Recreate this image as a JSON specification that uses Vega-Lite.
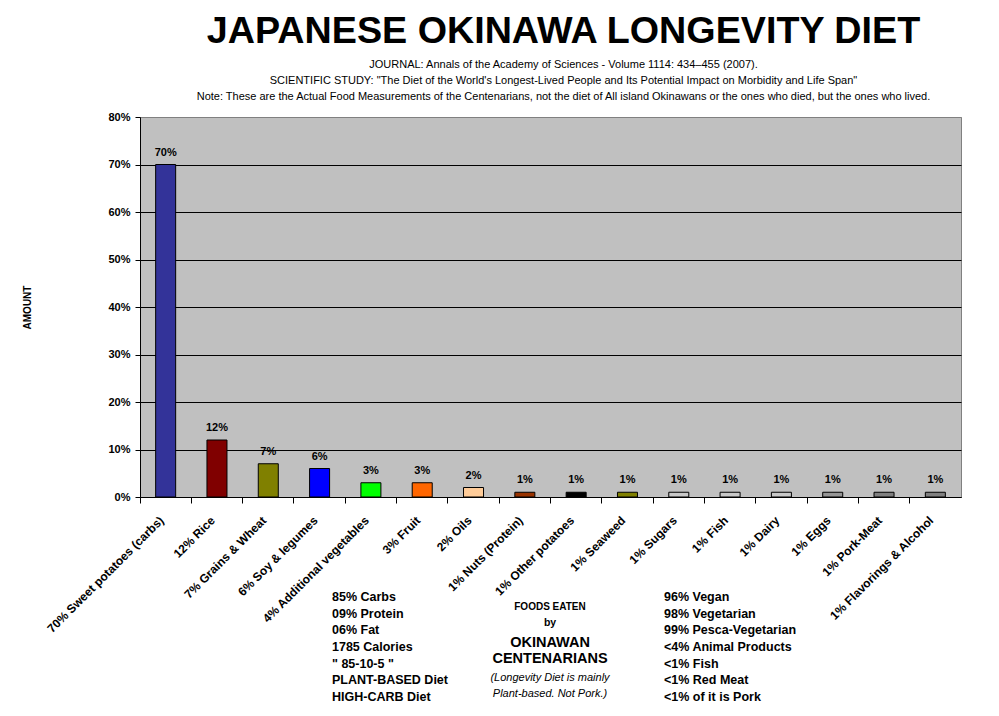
{
  "$schema": "https://vega.github.io/schema/vega-lite/v6.json",
  "width": 821,
  "height": 380,
  "autosize": {"type": "none"},
  "padding": {"left": 140, "top": 117, "right": 38, "bottom": 219},
  "background": "white",
  "title": {
    "text": "JAPANESE OKINAWA LONGEVITY DIET",
    "subtitle": [
      "JOURNAL: Annals of the Academy of Sciences - Volume 1114: 434–455 (2007).",
      "SCIENTIFIC STUDY: \"The Diet of the World's Longest-Lived People and Its Potential Impact on Morbidity and Life Span\"",
      "Note: These are the Actual Food Measurements of the Centenarians, not the diet of All island Okinawans or the ones who died, but the ones who lived."
    ],
    "anchor": "middle",
    "frame": "group",
    "dx": 13,
    "font": "Liberation Sans",
    "fontSize": 37.7,
    "fontWeight": "bold",
    "color": "black",
    "subtitleFont": "Liberation Sans",
    "subtitleFontSize": 11,
    "subtitleColor": "black",
    "subtitleLineHeight": 16,
    "subtitlePadding": 8,
    "offset": 9
  },
  "datasets": {
    "foods": [
      {"food": "70% Sweet potatoes (carbs)", "value": 0.70},
      {"food": "12% Rice", "value": 0.12},
      {"food": "7% Grains & Wheat", "value": 0.07},
      {"food": "6% Soy & legumes", "value": 0.06},
      {"food": "4% Additional vegetables", "value": 0.03},
      {"food": "3% Fruit", "value": 0.03},
      {"food": "2% Oils", "value": 0.02},
      {"food": "1% Nuts (Protein)", "value": 0.01},
      {"food": "1% Other potatoes", "value": 0.01},
      {"food": "1% Seaweed", "value": 0.01},
      {"food": "1% Sugars", "value": 0.01},
      {"food": "1% Fish", "value": 0.01},
      {"food": "1% Dairy", "value": 0.01},
      {"food": "1% Eggs", "value": 0.01},
      {"food": "1% Pork-Meat", "value": 0.01},
      {"food": "1% Flavorings & Alcohol", "value": 0.01}
    ],
    "notes": [
      {"col": "left", "kind": "side", "line": 0, "text": "85% Carbs"},
      {"col": "left", "kind": "side", "line": 1, "text": "09% Protein"},
      {"col": "left", "kind": "side", "line": 2, "text": "06% Fat"},
      {"col": "left", "kind": "side", "line": 3, "text": "1785 Calories"},
      {"col": "left", "kind": "side", "line": 4, "text": "\" 85-10-5 \""},
      {"col": "left", "kind": "side", "line": 5, "text": "PLANT-BASED Diet"},
      {"col": "left", "kind": "side", "line": 6, "text": "HIGH-CARB Diet"},
      {"col": "center", "kind": "heading", "line": 1, "text": "FOODS EATEN"},
      {"col": "center", "kind": "by", "line": 2, "text": "by"},
      {"col": "center", "kind": "name", "line": 3, "text": "OKINAWAN"},
      {"col": "center", "kind": "name", "line": 4, "text": "CENTENARIANS"},
      {"col": "center", "kind": "note", "line": 5, "text": "(Longevity Diet is mainly"},
      {"col": "center", "kind": "note", "line": 6, "text": "Plant-based. Not Pork.)"},
      {"col": "right", "kind": "side", "line": 0, "text": "96% Vegan"},
      {"col": "right", "kind": "side", "line": 1, "text": "98% Vegetarian"},
      {"col": "right", "kind": "side", "line": 2, "text": "99% Pesca-Vegetarian"},
      {"col": "right", "kind": "side", "line": 3, "text": "<4% Animal Products"},
      {"col": "right", "kind": "side", "line": 4, "text": "<1% Fish"},
      {"col": "right", "kind": "side", "line": 5, "text": "<1% Red Meat"},
      {"col": "right", "kind": "side", "line": 6, "text": "<1% of it is Pork"}
    ]
  },
  "layer": [
    {
      "data": {"name": "foods"},
      "encoding": {
        "x": {
          "field": "food",
          "type": "nominal",
          "sort": null,
          "scale": {"paddingInner": 0, "paddingOuter": 0},
          "axis": {
            "title": null,
            "labelAngle": -45,
            "labelAlign": "right",
            "labelBaseline": "middle",
            "labelFont": "Liberation Sans",
            "labelFontSize": 12,
            "labelFontWeight": "bold",
            "labelColor": "black",
            "labelPadding": 15,
            "labelOffset": -4,
            "labelLimit": 300,
            "labelOverlap": false,
            "bandPosition": 0,
            "tickSize": 6,
            "tickColor": "black",
            "domainColor": "black",
            "grid": false
          }
        },
        "y": {
          "field": "value",
          "type": "quantitative",
          "scale": {"domain": [0, 0.8], "nice": false},
          "axis": {
            "title": "AMOUNT",
            "titleFont": "Liberation Sans",
            "titleFontSize": 10,
            "titleFontWeight": "bold",
            "titleColor": "black",
            "titlePadding": 75,
            "values": [0, 0.1, 0.2, 0.3, 0.4, 0.5, 0.6, 0.7, 0.8],
            "format": ".0%",
            "labelFont": "Liberation Sans",
            "labelFontSize": 11,
            "labelFontWeight": "bold",
            "labelColor": "black",
            "labelPadding": 5,
            "tickSize": 5,
            "tickColor": "black",
            "domainColor": "black",
            "grid": true,
            "gridColor": {"condition": {"test": "datum.value >= 0.79", "value": "#808080"}, "value": "black"},
            "gridOpacity": 1
          }
        }
      },
      "layer": [
        {
          "mark": {"type": "bar", "width": {"band": 0.39}, "stroke": "black", "strokeWidth": 1},
          "encoding": {
            "color": {
              "field": "food",
              "type": "nominal",
              "legend": null,
              "scale": {
                "domain": ["70% Sweet potatoes (carbs)", "12% Rice", "7% Grains & Wheat", "6% Soy & legumes", "4% Additional vegetables", "3% Fruit", "2% Oils", "1% Nuts (Protein)", "1% Other potatoes", "1% Seaweed", "1% Sugars", "1% Fish", "1% Dairy", "1% Eggs", "1% Pork-Meat", "1% Flavorings & Alcohol"],
                "range": ["#333399", "#800000", "#808000", "#0000FF", "#00FF00", "#FF6600", "#FFCC99", "#993300", "#000000", "#808000", "#C8C8C8", "#C8C8C8", "#C8C8C8", "#969696", "#808080", "#808080"]
              }
            }
          }
        },
        {
          "mark": {"type": "text", "baseline": "bottom", "dy": -7, "font": "Liberation Sans", "fontSize": 11, "fontWeight": "bold", "color": "black"},
          "encoding": {
            "text": {"field": "value", "type": "quantitative", "format": ".0%"}
          }
        }
      ]
    },
    {
      "data": {"name": "notes"},
      "encoding": {
        "x": {
          "field": "col",
          "type": "nominal",
          "scale": {"type": "point", "domain": ["left", "center", "right"], "range": [192, 524], "padding": 0},
          "axis": null
        },
        "y": {
          "field": "line",
          "type": "ordinal",
          "scale": {"type": "point", "domain": [0, 1, 2, 3, 4, 5, 6], "range": [480, 580], "padding": 0},
          "axis": null
        },
        "text": {"field": "text", "type": "nominal"}
      },
      "layer": [
        {
          "transform": [{"filter": "datum.kind === 'side'"}],
          "mark": {"type": "text", "align": "left", "baseline": "middle", "font": "Liberation Sans", "fontSize": 12.5, "fontWeight": "bold", "color": "black"}
        },
        {
          "transform": [{"filter": "datum.kind === 'heading'"}],
          "mark": {"type": "text", "align": "center", "baseline": "middle", "dx": 52, "dy": -6.4, "font": "Liberation Sans", "fontSize": 10, "fontWeight": "bold", "color": "black"}
        },
        {
          "transform": [{"filter": "datum.kind === 'by'"}],
          "mark": {"type": "text", "align": "center", "baseline": "middle", "dx": 52, "dy": -7, "font": "Liberation Sans", "fontSize": 10.5, "fontWeight": "bold", "color": "black"}
        },
        {
          "transform": [{"filter": "datum.kind === 'name'"}],
          "mark": {"type": "text", "align": "center", "baseline": "middle", "dx": 52, "dy": -4.5, "font": "Liberation Sans", "fontSize": 14.5, "fontWeight": "bold", "color": "black"}
        },
        {
          "transform": [{"filter": "datum.kind === 'note'"}],
          "mark": {"type": "text", "align": "center", "baseline": "middle", "dx": 52, "dy": -2.8, "font": "Liberation Sans", "fontSize": 11, "fontStyle": "italic", "color": "black"}
        }
      ]
    }
  ],
  "resolve": {"scale": {"x": "independent", "y": "independent", "color": "independent"}},
  "config": {
    "font": "Liberation Sans",
    "view": {"fill": "#C0C0C0", "stroke": "#808080", "strokeWidth": 1}
  }
}
